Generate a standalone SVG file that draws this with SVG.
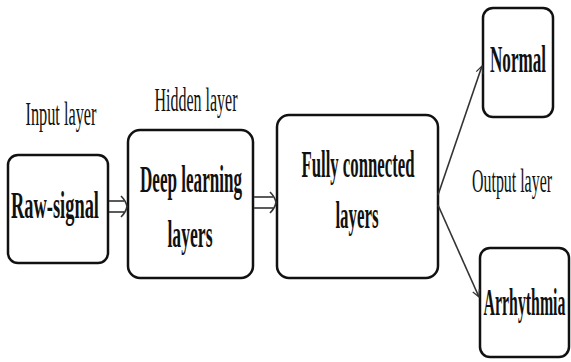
<svg xmlns="http://www.w3.org/2000/svg" width="571" height="362" viewBox="0 0 571 362">
<defs>
<style>
.box{fill:#fff;stroke:#111;stroke-width:2.5}
.lbl{font-family:"Liberation Serif","Times New Roman",serif;font-size:37px;font-weight:bold;fill:#111;text-anchor:middle}
.cap{font-family:"Liberation Serif","Times New Roman",serif;font-size:33px;fill:#111;text-anchor:middle}
.ln{stroke:#333;stroke-width:1.6;fill:none}
</style>
<marker id="ah" viewBox="0 0 10 10" refX="9" refY="5" markerWidth="9" markerHeight="9" markerUnits="userSpaceOnUse" orient="auto">
<path d="M1,1 L9,5 L1,9" fill="none" stroke="#333" stroke-width="1.4"/>
</marker>
</defs>
<rect width="571" height="362" fill="#fff"/>
<text class="cap" transform="translate(61,125) scale(0.5,1)" textLength="142" lengthAdjust="spacingAndGlyphs">Input layer</text>
<text class="cap" transform="translate(196,111) scale(0.5,1)" textLength="166" lengthAdjust="spacingAndGlyphs">Hidden layer</text>
<text class="cap" transform="translate(512,192) scale(0.5,1)" textLength="160" lengthAdjust="spacingAndGlyphs">Output layer</text>
<g id="raw">
<rect class="box" x="8" y="155" width="100" height="108" rx="10"/>
<text class="lbl" transform="translate(55,218) scale(0.46,1)" textLength="191" lengthAdjust="spacingAndGlyphs">Raw-signal</text>
</g>
<g id="deep">
<rect class="box" x="128" y="130" width="125" height="148" rx="12"/>
<text class="lbl" transform="translate(191,192) scale(0.46,1)" textLength="222" lengthAdjust="spacingAndGlyphs">Deep learning</text>
<text class="lbl" transform="translate(190,247) scale(0.46,1)" textLength="98" lengthAdjust="spacingAndGlyphs">layers</text>
</g>
<g id="fc">
<rect class="box" x="277" y="115" width="161" height="163" rx="12"/>
<text class="lbl" transform="translate(358,177) scale(0.46,1)" textLength="246" lengthAdjust="spacingAndGlyphs">Fully connected</text>
<text class="lbl" transform="translate(357,228) scale(0.46,1)" textLength="94" lengthAdjust="spacingAndGlyphs">layers</text>
</g>
<g id="normal">
<rect class="box" x="483" y="8" width="70" height="109" rx="10"/>
<text class="lbl" transform="translate(518,72) scale(0.46,1)" textLength="122" lengthAdjust="spacingAndGlyphs">Normal</text>
</g>
<g id="arrhythmia">
<rect class="box" x="480" y="248" width="89" height="109" rx="10"/>
<text class="lbl" transform="translate(524.5,315) scale(0.46,1)" textLength="178" lengthAdjust="spacingAndGlyphs">Arrhythmia</text>
</g>
<g id="connectors">
<line class="ln" x1="109" y1="201" x2="124" y2="201"/>
<line class="ln" x1="109" y1="212" x2="124" y2="212"/>
<path class="ln" d="M121,196 Q126,201 127,206.5 Q126,212 121,217"/>
<line class="ln" x1="254" y1="197" x2="273" y2="197"/>
<line class="ln" x1="254" y1="208" x2="273" y2="208"/>
<path class="ln" d="M270,192 Q275,197 276,202.5 Q275,208 270,213"/>
<line class="ln" x1="438" y1="195" x2="482" y2="66" marker-end="url(#ah)"/>
<line class="ln" x1="438" y1="205" x2="479" y2="297" marker-end="url(#ah)"/>
</g>
</svg>
